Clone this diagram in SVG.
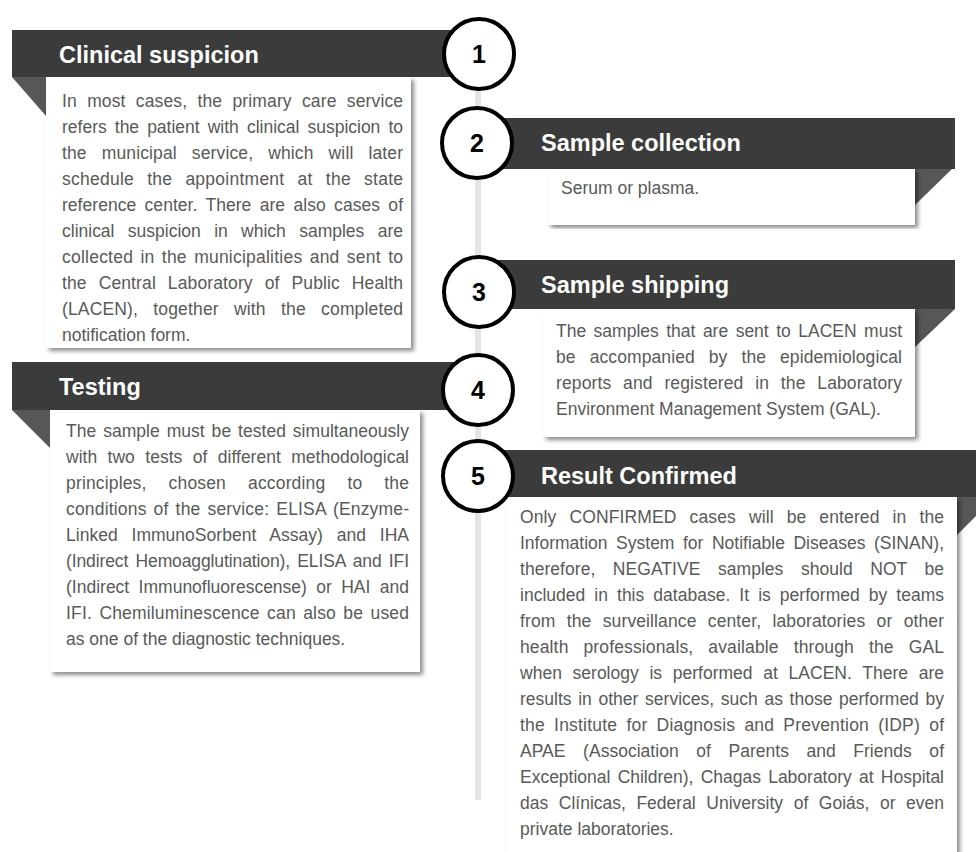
<svg xmlns="http://www.w3.org/2000/svg" width="976" height="852" viewBox="0 0 976 852">
<defs>
<filter id="sh" x="-5%" y="-5%" width="112%" height="112%">
<feDropShadow dx="3" dy="3" stdDeviation="2" flood-color="#000" flood-opacity="0.45"/>
</filter>
<style>
.bar{fill:#3b3b3b}
.fold{fill:#575757}
.box{fill:#ffffff;filter:url(#sh)}
.hd{font-family:"Liberation Sans",Arial,sans-serif;font-weight:bold;font-size:23.5px;fill:#ffffff}
.tx{font-family:"Liberation Sans",Arial,sans-serif;font-size:17.5px;fill:#595959}
.circ{fill:#ffffff;stroke:#000000;stroke-width:4}
.num{font-family:"Liberation Sans",Arial,sans-serif;font-weight:bold;font-size:25px;fill:#000000;text-anchor:middle}
</style>
</defs>
<rect width="976" height="852" fill="#ffffff"/>
<g id="connectors">
<rect x="475" y="90" width="6" height="710" fill="#e4e4e4"/>
</g>
<g id="node1">
<rect class="bar" x="12" y="30" width="466" height="47"/>
<polygon class="fold" points="12,77 46,77 46,116"/>
<rect class="box" x="46" y="77" width="365" height="271"/>
<text class="hd" x="59" y="63">Clinical suspicion</text>
<g class="tx">
<text x="62" y="107" textLength="341" style="word-spacing:5.3px">In most cases, the primary care service</text>
<text x="62" y="133" textLength="341" style="word-spacing:3.2px">refers the patient with clinical suspicion to</text>
<text x="62" y="159" textLength="341" style="word-spacing:10px">the municipal service, which will later</text>
<text x="62" y="185" textLength="341" style="word-spacing:8px">schedule the appointment at the state</text>
<text x="62" y="211" textLength="341" style="word-spacing:3.5px">reference center. There are also cases of</text>
<text x="62" y="237" textLength="341" style="word-spacing:8.5px">clinical suspicion in which samples are</text>
<text x="62" y="263" textLength="341" style="word-spacing:2.2px">collected in the municipalities and sent to</text>
<text x="62" y="289" textLength="341" style="word-spacing:7px">the Central Laboratory of Public Health</text>
<text x="62" y="315" textLength="341" style="word-spacing:10.3px">(LACEN), together with the completed</text>
<text x="62" y="341">notification form.</text>
</g>
</g>
<g id="node2">
<rect class="bar" x="478" y="118" width="477" height="51"/>
<polygon class="fold" points="915,169 952,169 915,205"/>
<rect class="box" x="548" y="169" width="367" height="56"/>
<text class="hd" x="541" y="151">Sample collection</text>
<text class="tx" x="561" y="194">Serum or plasma.</text>
</g>
<g id="node3">
<rect class="bar" x="478" y="260" width="477" height="49"/>
<polygon class="fold" points="915,309 955,309 915,347"/>
<rect class="box" x="543" y="309" width="372" height="128"/>
<text class="hd" x="541" y="293">Sample shipping</text>
<g class="tx">
<text x="556" y="337" textLength="346" style="word-spacing:2.6px">The samples that are sent to LACEN must</text>
<text x="556" y="363" textLength="346" style="word-spacing:9px">be accompanied by the epidemiological</text>
<text x="556" y="389" textLength="346" style="word-spacing:6.8px">reports and registered in the Laboratory</text>
<text x="556" y="415">Environment Management System (GAL).</text>
</g>
</g>
<g id="node4">
<rect class="bar" x="12" y="362" width="466" height="48"/>
<polygon class="fold" points="12,410 50,410 50,448"/>
<rect class="box" x="50" y="410" width="370" height="262"/>
<text class="hd" x="59" y="395">Testing</text>
<g class="tx">
<text x="66" y="437" textLength="343" style="word-spacing:2px">The sample must be tested simultaneously</text>
<text x="66" y="463" textLength="343" style="word-spacing:5.6px">with two tests of different methodological</text>
<text x="66" y="489" textLength="343" style="word-spacing:17px">principles, chosen according to the</text>
<text x="66" y="515" textLength="343" style="word-spacing:2px">conditions of the service: ELISA (Enzyme-</text>
<text x="66" y="541" textLength="343" style="word-spacing:9px">Linked ImmunoSorbent Assay) and IHA</text>
<text x="66" y="567" textLength="343" style="word-spacing:2.5px">(Indirect Hemoagglutination), ELISA and IFI</text>
<text x="66" y="593" textLength="343" style="word-spacing:4.5px">(Indirect Immunofluorescense) or HAI and</text>
<text x="66" y="619" textLength="343" style="word-spacing:2.4px">IFI. Chemiluminescence can also be used</text>
<text x="66" y="645">as one of the diagnostic techniques.</text>
</g>
</g>
<g id="node5">
<rect class="bar" x="478" y="450" width="498" height="47"/>
<polygon class="fold" points="957,497 995,497 957,535"/>
<rect class="box" x="506" y="497" width="451" height="380"/>
<text class="hd" x="541" y="484">Result Confirmed</text>
<g class="tx">
<text x="520" y="523" textLength="424" style="word-spacing:8px">Only CONFIRMED cases will be entered in the</text>
<text x="520" y="549" textLength="424" style="word-spacing:3.7px">Information System for Notifiable Diseases (SINAN),</text>
<text x="520" y="575" textLength="424" style="word-spacing:12.6px">therefore, NEGATIVE samples should NOT be</text>
<text x="520" y="601" textLength="424" style="word-spacing:4.2px">included in this database. It is performed by teams</text>
<text x="520" y="627" textLength="424" style="word-spacing:6.3px">from the surveillance center, laboratories or other</text>
<text x="520" y="653" textLength="424" style="word-spacing:10px">health professionals, available through the GAL</text>
<text x="520" y="679" textLength="424" style="word-spacing:5.8px">when serology is performed at LACEN. There are</text>
<text x="520" y="705" textLength="424" style="word-spacing:1.8px">results in other services, such as those performed by</text>
<text x="520" y="731" textLength="424" style="word-spacing:4.1px">the Institute for Diagnosis and Prevention (IDP) of</text>
<text x="520" y="757" textLength="424" style="word-spacing:12.7px">APAE (Association of Parents and Friends of</text>
<text x="520" y="783" textLength="424" style="word-spacing:2.4px">Exceptional Children), Chagas Laboratory at Hospital</text>
<text x="520" y="809" textLength="424" style="word-spacing:5.7px">das Clínicas, Federal University of Goiás, or even</text>
<text x="520" y="835">private laboratories.</text>
</g>
</g>
<g id="circles">
<g id="c1"><circle class="circ" cx="479" cy="54" r="35"/><text class="num" x="479" y="63">1</text></g>
<g id="c2"><circle class="circ" cx="477" cy="143" r="35"/><text class="num" x="477" y="152">2</text></g>
<g id="c3"><circle class="circ" cx="479" cy="292" r="35"/><text class="num" x="479" y="301">3</text></g>
<g id="c4"><circle class="circ" cx="478" cy="390" r="35"/><text class="num" x="478" y="399">4</text></g>
<g id="c5"><circle class="circ" cx="478" cy="476" r="35"/><text class="num" x="478" y="485">5</text></g>
</g>
</svg>
